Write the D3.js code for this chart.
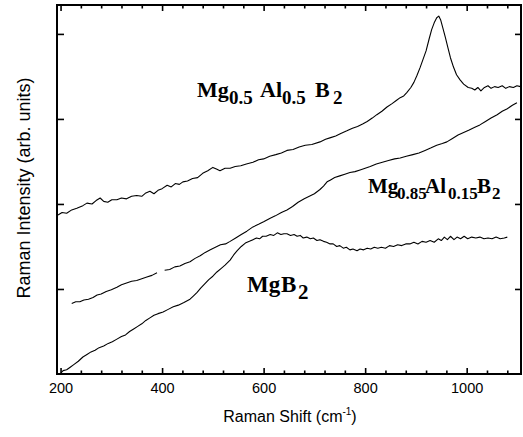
<!DOCTYPE html>
<html><head><meta charset="utf-8">
<script src="https://cdn.jsdelivr.net/npm/d3@7"></script>
<style>body{margin:0;background:#fff}svg{display:block}</style>
</head><body>
<svg id="c" width="523" height="437"></svg>
<script>
// ---- tick values ----
const xMajorTicks = [200, 400, 600, 800, 1000];
const xMinorTicks = [240, 280, 320, 360, 440, 480, 520, 560, 640, 680, 720, 760, 840, 880, 920, 960, 1040, 1080];
const yTicks = [1, 2, 3, 4];

// ---- series: [Raman shift (cm-1), intensity (arb. units)] ----
const mg05al05b2 = [[195,1.87],[203,1.90],[212,1.89],[222,1.93],[232,1.95],[244,1.98],[252,2.01],[262,2.00],[270,2.04],[278,2.07],[285,2.03],[293,2.02],[301,2.05],[311,2.05],[320,2.07],[330,2.06],[340,2.09],[350,2.10],[360,2.09],[368,2.13],[376,2.15],[384,2.12],[392,2.16],[400,2.18],[410,2.22],[418,2.20],[426,2.24],[434,2.23],[441,2.26],[450,2.27],[460,2.30],[470,2.31],[480,2.36],[490,2.39],[500,2.43],[507,2.41],[514,2.39],[524,2.42],[534,2.42],[544,2.44],[555,2.45],[566,2.47],[579,2.49],[590,2.52],[600,2.53],[612,2.56],[624,2.58],[635,2.60],[646,2.63],[658,2.64],[670,2.67],[682,2.69],[695,2.70],[711,2.73],[722,2.76],[732,2.78],[742,2.80],[752,2.83],[764,2.86],[775,2.89],[785,2.91],[795,2.94],[804,2.97],[814,3.01],[823,3.05],[833,3.09],[843,3.14],[853,3.18],[862,3.22],[869,3.25],[876,3.27],[882,3.31],[890,3.37],[896,3.43],[902,3.51],[908,3.60],[914,3.70],[920,3.80],[926,3.94],[931,4.05],[936,4.13],[941,4.19],[945,4.21],[949,4.16],[953,4.07],[958,3.96],[963,3.84],[968,3.72],[974,3.61],[980,3.52],[987,3.46],[994,3.41],[1003,3.37],[1010,3.36],[1016,3.34],[1022,3.37],[1028,3.33],[1035,3.37],[1042,3.39],[1048,3.36],[1055,3.38],[1062,3.37],[1070,3.39],[1077,3.36],[1084,3.38],[1092,3.37],[1099,3.39],[1106,3.38]];

const mg085al015b2 = [[222,0.83],[230,0.85],[238,0.85],[246,0.87],[255,0.88],[264,0.90],[272,0.93],[280,0.94],[290,0.97],[300,0.99],[311,1.02],[320,1.05],[330,1.07],[340,1.09],[350,1.10],[360,1.12],[370,1.14],[380,1.16],[390,1.19],null,[405,1.22],[415,1.23],[425,1.26],[435,1.27],[445,1.30],[455,1.32],[465,1.36],[475,1.39],[485,1.43],[495,1.46],[505,1.49],[515,1.52],[525,1.53],[534,1.56],[545,1.60],[556,1.64],[567,1.68],[579,1.73],[590,1.76],[600,1.79],[612,1.83],[623,1.86],[635,1.90],[646,1.93],[657,1.97],[668,2.02],[680,2.06],[690,2.09],[700,2.12],[711,2.17],[718,2.21],[725,2.26],[731,2.28],[740,2.31],[750,2.33],[760,2.35],[770,2.37],[780,2.38],[790,2.40],[800,2.42],[810,2.44],[822,2.47],[834,2.49],[846,2.51],[858,2.53],[869,2.54],[881,2.56],[894,2.58],[906,2.60],[918,2.63],[930,2.66],[941,2.69],[952,2.71],[961,2.73],[972,2.77],[983,2.81],[994,2.84],[1005,2.87],[1015,2.90],[1026,2.93],[1037,2.97],[1048,3.01],[1060,3.05],[1070,3.09],[1080,3.12],[1090,3.16],[1099,3.19]];

const mgb2 = [[199,0.00],[205,0.04],[212,0.05],[219,0.08],[226,0.11],[235,0.15],[244,0.20],[252,0.23],[260,0.26],[268,0.28],[276,0.31],[285,0.33],[294,0.36],[302,0.38],[311,0.41],[320,0.44],[328,0.46],[336,0.50],[344,0.53],[352,0.56],[360,0.59],[368,0.63],[376,0.66],[384,0.69],[392,0.71],[402,0.73],[412,0.76],[422,0.79],[432,0.81],[443,0.84],[455,0.88],[462,0.92],[469,0.96],[476,1.01],[484,1.06],[492,1.11],[500,1.15],[508,1.20],[516,1.24],[524,1.28],[534,1.34],[541,1.40],[548,1.45],[556,1.50],[564,1.54],[572,1.56],[579,1.58],[586,1.60],[592,1.59],[598,1.62],[605,1.62],[613,1.64],[620,1.63],[627,1.66],[634,1.64],[640,1.65],[646,1.65],[653,1.63],[660,1.64],[666,1.62],[672,1.63],[678,1.60],[685,1.61],[692,1.59],[698,1.60],[705,1.57],[711,1.58],[718,1.56],[724,1.55],[731,1.53],[737,1.53],[744,1.50],[750,1.51],[757,1.48],[763,1.49],[770,1.46],[776,1.47],[784,1.45],[790,1.47],[797,1.46],[804,1.48],[811,1.47],[818,1.49],[825,1.48],[832,1.49],[840,1.48],[848,1.51],[856,1.50],[864,1.52],[872,1.51],[880,1.53],[888,1.53],[896,1.55],[904,1.53],[912,1.56],[920,1.55],[928,1.57],[936,1.55],[944,1.59],[950,1.57],[956,1.61],[962,1.58],[968,1.62],[975,1.58],[981,1.61],[988,1.59],[995,1.62],[1002,1.59],[1010,1.61],[1018,1.60],[1026,1.61],[1034,1.59],[1042,1.60],[1050,1.59],[1058,1.61],[1066,1.59],[1074,1.60],[1080,1.61]];

const allSeries = [mg05al05b2, mg085al015b2, mgb2];

// ---- labels (text pieces: [text, isSub]) ----
const label1 = [["Mg",0],["0.5",1],["Al",0],["0.5",1],["B",0],["2",1]];
const label2 = [["Mg",0],["0.85",1],["Al",0],["0.15",1],["B",0],["2",1]];
const label3 = [["Mg",0],["B",0],["2",1]];

const svg = d3.select("#c");
const L = 57, R = 521, T = 5, B = 374;
const x = d3.scaleLinear().domain([193, 1107]).range([L, R]);
const y = d3.scaleLinear().domain([0, 4.34]).range([B, T]);

const sans = "'Liberation Sans', Arial, sans-serif";
const serif = "'Liberation Serif', 'Times New Roman', serif";

function styleAxis(g){
  g.select(".domain").remove();
  g.selectAll(".tick line").attr("stroke","#000").attr("stroke-width",1.6);
}

// bottom axis
svg.append("g").attr("transform",`translate(0,${B})`)
  .call(d3.axisBottom(x).tickValues(xMajorTicks).tickSizeInner(-6).tickSizeOuter(0).tickPadding(9).tickFormat(d3.format("d")))
  .call(styleAxis)
  .call(g=>g.selectAll("text").attr("font-family",sans).attr("font-size",14.5).attr("fill","#000"));
svg.append("g").attr("transform",`translate(0,${B})`)
  .call(d3.axisBottom(x).tickValues(xMinorTicks).tickSizeInner(-3.5).tickSizeOuter(0).tickFormat(""))
  .call(styleAxis);
// top axis
svg.append("g").attr("transform",`translate(0,${T})`)
  .call(d3.axisTop(x).tickValues(xMajorTicks).tickSizeInner(-6).tickSizeOuter(0).tickFormat(""))
  .call(styleAxis);
svg.append("g").attr("transform",`translate(0,${T})`)
  .call(d3.axisTop(x).tickValues(xMinorTicks).tickSizeInner(-3.5).tickSizeOuter(0).tickFormat(""))
  .call(styleAxis);
// left / right axes
svg.append("g").attr("transform",`translate(${L},0)`)
  .call(d3.axisLeft(y).tickValues(yTicks).tickSizeInner(-7).tickSizeOuter(0).tickFormat(""))
  .call(styleAxis);
svg.append("g").attr("transform",`translate(${R},0)`)
  .call(d3.axisRight(y).tickValues(yTicks).tickSizeInner(-6).tickSizeOuter(0).tickFormat(""))
  .call(styleAxis);

// frame
svg.append("rect").attr("x",L).attr("y",T).attr("width",R-L).attr("height",B-T)
  .attr("fill","none").attr("stroke","#000").attr("stroke-width",2);

// curves
const line = d3.line().defined(d=>d!=null).x(d=>x(d[0])).y(d=>y(d[1]));
svg.append("g").selectAll("path").data(allSeries).join("path")
  .attr("d",line).attr("fill","none").attr("stroke","#000")
  .attr("stroke-width",1.1).attr("stroke-linejoin","round");

// compound labels
function compound(pieces, xs, base, mainSize, subSize, subDrop){
  const t = svg.append("text").attr("font-family",serif).attr("font-weight","bold").attr("fill","#000");
  pieces.forEach((p,i)=>{
    t.append("tspan").attr("x",xs[i]).attr("y", p[1] ? base+subDrop : base)
      .attr("font-size", p[1] ? subSize : mainSize).text(p[0]);
  });
}
compound(label1, [197,229,260,282,315,333], 97, 22, 19, 7);
compound(label2, [368,397,425,448,477,492], 193, 21, 17, 6);
compound(label3, [247,281,298], 292, 23, 21, 7);

// axis titles
const xt = svg.append("text").attr("x",290).attr("y",422).attr("text-anchor","middle")
  .attr("font-family",sans).attr("font-size",16).attr("fill","#000");
xt.append("tspan").text("Raman Shift (cm");
xt.append("tspan").attr("font-size",10).attr("dy",-7).text("-1");
xt.append("tspan").attr("dy",7).text(")");

svg.append("text").attr("transform","translate(30,188) rotate(-90)").attr("text-anchor","middle")
  .attr("font-family",sans).attr("font-size",18).attr("fill","#000")
  .text("Raman Intensity (arb. units)");
</script>
</body></html>
